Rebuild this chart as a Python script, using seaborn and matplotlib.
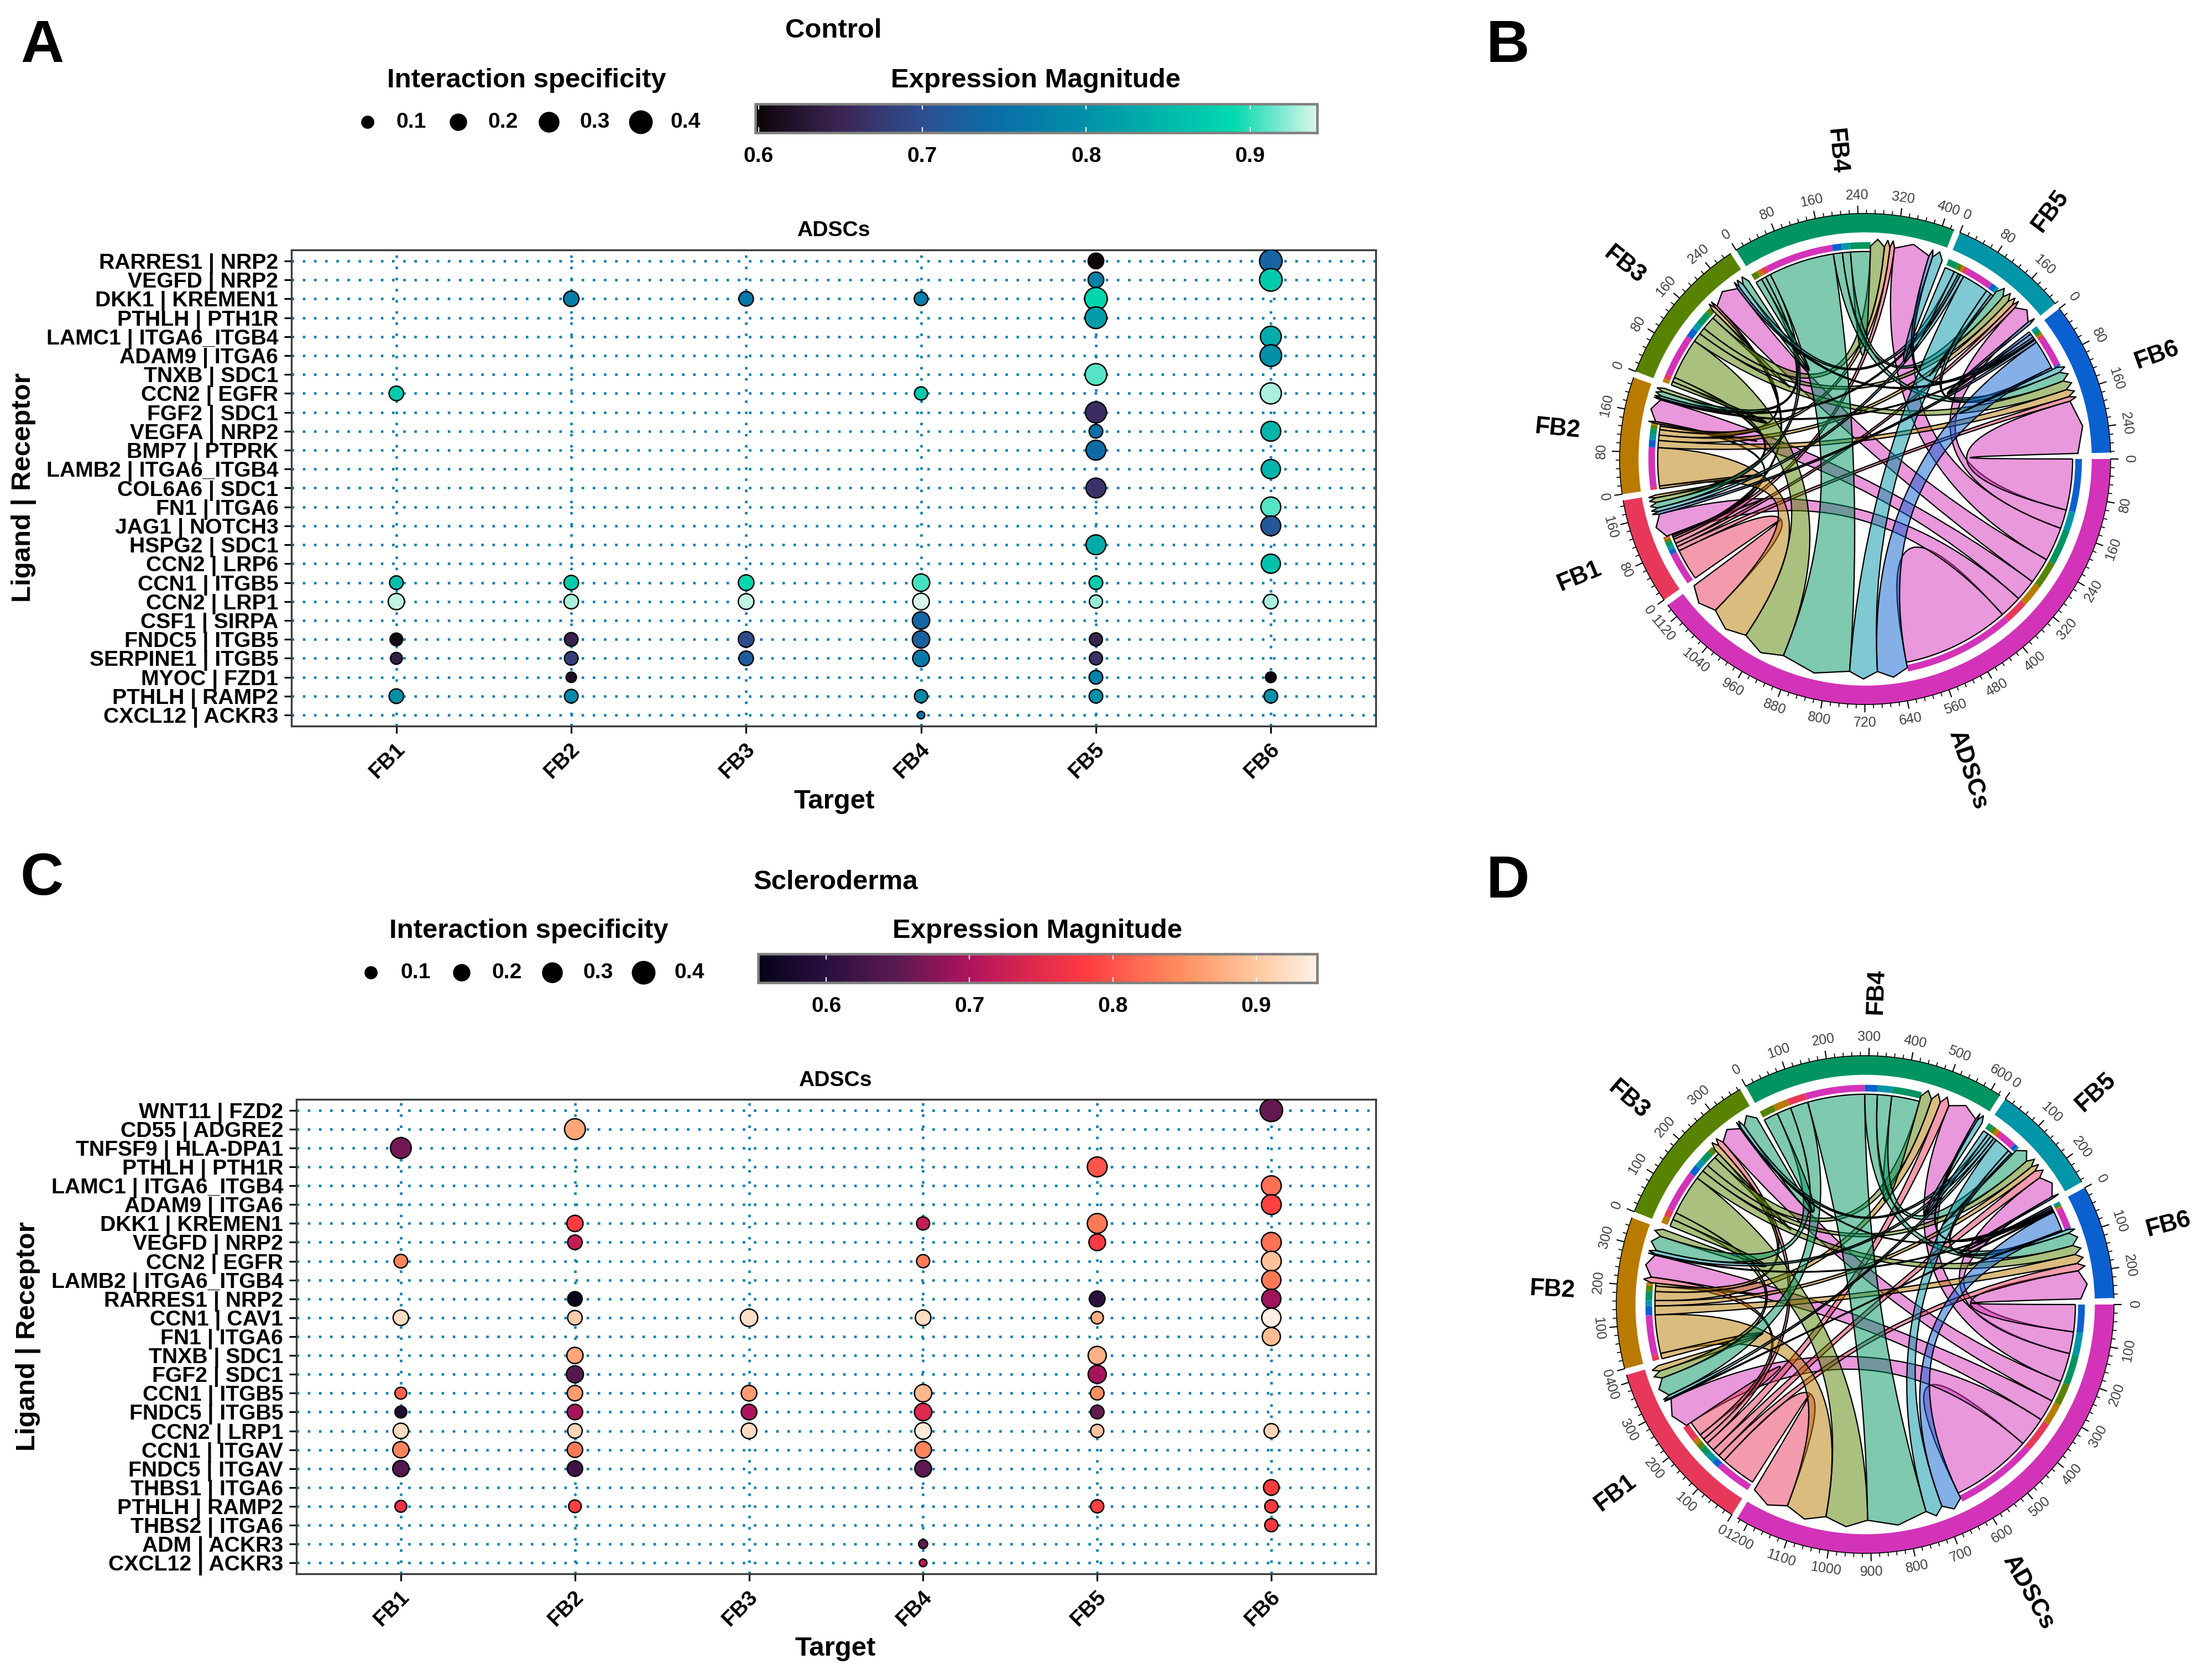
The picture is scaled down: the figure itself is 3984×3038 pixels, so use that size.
import numpy as np
import pandas as pd
import seaborn as sns
import matplotlib.pyplot as plt
from matplotlib.cm import ScalarMappable
from matplotlib.collections import LineCollection
from matplotlib.colors import LinearSegmentedColormap, Normalize
from matplotlib.patches import PathPatch, Wedge
from matplotlib.path import Path
from matplotlib.transforms import ScaledTranslation

N = np.nan
W, H = 3984, 3038
DPI = 300

targets = ["FB1", "FB2", "FB3", "FB4", "FB5", "FB6"]

# panel A
a_pairs = ["RARRES1 | NRP2", "VEGFD | NRP2", "DKK1 | KREMEN1", "PTHLH | PTH1R", "LAMC1 | ITGA6_ITGB4",
           "ADAM9 | ITGA6", "TNXB | SDC1", "CCN2 | EGFR", "FGF2 | SDC1", "VEGFA | NRP2",
           "BMP7 | PTPRK", "LAMB2 | ITGA6_ITGB4", "COL6A6 | SDC1", "FN1 | ITGA6", "JAG1 | NOTCH3",
           "HSPG2 | SDC1", "CCN2 | LRP6", "CCN1 | ITGB5", "CCN2 | LRP1", "CSF1 | SIRPA",
           "FNDC5 | ITGB5", "SERPINE1 | ITGB5", "MYOC | FZD1", "PTHLH | RAMP2", "CXCL12 | ACKR3"]
a_fb1_expr = [N,N,N,N,N, N,N,.875,N,N, N,N,N,N,N, N,N,.855,.935,N, .605,.64,N,.80,N]
a_fb1_spec = [N,N,N,N,N, N,N,.13,N,N, N,N,N,N,N, N,N,.11,.17,N, .09,.075,N,.13,N]
a_fb2_expr = [N,N,.77,N,N, N,N,N,N,N, N,N,N,N,N, N,N,.875,.93,N, .645,.68,.615,.79,N]
a_fb2_spec = [N,N,.15,N,N, N,N,N,N,N, N,N,N,N,N, N,N,.13,.13,N, .11,.11,.05,.11,N]
a_fb3_expr = [N,N,.76,N,N, N,N,N,N,N, N,N,N,N,N, N,N,.885,.935,N, .695,.72,N,N,N]
a_fb3_spec = [N,N,.13,N,N, N,N,N,N,N, N,N,N,N,N, N,N,.155,.155,N, .155,.13,N,N,N]
a_fb4_expr = [N,N,.77,N,N, N,N,.87,N,N, N,N,N,N,N, N,N,.905,.94,.735, .725,.76,N,.79,.76]
a_fb4_spec = [N,N,.11,N,N, N,N,.10,N,N, N,N,N,N,N, N,N,.20,.18,.20, .20,.18,N,.10,.01]
a_fb5_expr = [.60,.775,.885,.815,N, N,.91,N,.66,.745, .74,N,.665,N,N, .835,N,.875,.925,N, .645,.665,.78,.80,N]
a_fb5_spec = [.155,.155,.36,.33,N, N,.33,N,.31,.11, .27,N,.27,N,N, .27,N,.11,.10,N, .10,.10,.11,.11,N]
a_fb6_expr = [.73,.87,N,N,.835, .80,N,.93,N,.845, N,.845,N,.91,.71, N,.86,N,.93,N, N,N,.60,.80,N]
a_fb6_spec = [.36,.36,N,N,.30, .33,N,.31,N,.27, N,.25,N,.27,.27, N,.25,N,.13,N, N,N,.055,.11,N]

# panel C
c_pairs = ["WNT11 | FZD2", "CD55 | ADGRE2", "TNFSF9 | HLA-DPA1", "PTHLH | PTH1R", "LAMC1 | ITGA6_ITGB4",
           "ADAM9 | ITGA6", "DKK1 | KREMEN1", "VEGFD | NRP2", "CCN2 | EGFR", "LAMB2 | ITGA6_ITGB4",
           "RARRES1 | NRP2", "CCN1 | CAV1", "FN1 | ITGA6", "TNXB | SDC1", "FGF2 | SDC1",
           "CCN1 | ITGB5", "FNDC5 | ITGB5", "CCN2 | LRP1", "CCN1 | ITGAV", "FNDC5 | ITGAV",
           "THBS1 | ITGA6", "PTHLH | RAMP2", "THBS2 | ITGA6", "ADM | ACKR3", "CXCL12 | ACKR3"]
c_fb1_expr = [N,N,.665,N,N, N,N,N,.84,N, N,.92,N,N,N, .81,.585,.92,.84,.64, N,.76,N,N,N]
c_fb1_spec = [N,N,.30,N,N, N,N,N,.11,N, N,.15,N,N,N, .075,.075,.15,.17,.17, N,.075,N,N,N]
c_fb2_expr = [N,.87,N,N,N, N,.78,.72,N,N, .555,.905,N,.87,.645, .86,.695,.915,.83,.62, N,.785,N,N,N]
c_fb2_spec = [N,.30,N,N,N, N,.17,.13,N,N, .13,.13,N,.17,.19, .15,.15,.13,.15,.15, N,.09,N,N,N]
c_fb3_expr = [N,N,N,N,N, N,N,N,N,N, N,.925,N,N,N, .86,.70,.92,N,N, N,N,N,N,N]
c_fb3_spec = [N,N,N,N,N, N,N,N,N,N, N,.20,N,N,N, .155,.155,.155,N,N, N,N,N,N,N]
c_fb4_expr = [N,N,N,N,N, N,.72,N,.83,N, N,.92,N,N,N, .885,.745,.935,.84,.65, N,N,N,.65,.71]
c_fb4_spec = [N,N,N,N,N, N,.10,N,.10,N, N,.155,N,N,N, .20,.20,.18,.18,.18, N,N,N,.03,.012]
c_fb5_expr = [N,N,N,.80,N, N,.83,.775,N,N, .60,.875,N,.88,.695, .85,.655,.895,N,N, N,.785,N,N,N]
c_fb5_spec = [N,N,N,.27,N, N,.27,.18,N,N, .155,.085,N,.22,.22, .11,.11,.10,N,N, N,.10,N,N,N]
c_fb6_expr = [.655,N,N,N,.825, .785,N,.825,.895,.83, .69,.94,.89,N,N, N,N,.915,N,N, .78,.775,.775,N,N]
c_fb6_spec = [.36,N,N,N,.27, .27,N,.27,.27,.25, .25,.25,.22,N,N, N,N,.13,N,N, .155,.10,.10,N,N]

# colour ramps
a_ramp_vals = [.598, .65, .70, .745, .80, .89, .941]
a_ramp_cols = ["#0b0408", "#3d2555", "#2d4f92", "#0a6ea8", "#0090a8", "#00d9ae", "#d8f6ea"]
c_ramp_vals = [.5525, .60, .65, .70, .78, .85, .90, .9425]
c_ramp_cols = ["#05031a", "#2a1040", "#5c1a50", "#b0135d", "#ff3b40", "#ff9060", "#ffc8a0", "#fff0e4"]

# chord diagrams, rows send, columns receive: ADSCs, FB1 ... FB6
sectors = ["ADSCs", "FB1", "FB2", "FB3", "FB4", "FB5", "FB6"]
sector_cols = ["#d333b8", "#e8385a", "#b97a00", "#578300", "#009460", "#0095a8", "#0b60d0"]
b_adscs = [240, 50, 48, 58, 76, 42, 114]
b_fb1 = [70, 3, 4, 5, 10, 8, 10]
b_fb2 = [85, 6, 4, 8, 12, 12, 16]
b_fb3 = [92, 10, 8, 12, 30, 15, 20]
b_fb4 = [147, 12, 10, 14, 44, 18, 20]
b_fb5 = [60, 8, 5, 10, 22, 6, 12]
b_fb6 = [65, 6, 3, 5, 8, 6, 5]
d_adscs = [227, 83, 60, 59, 81, 61, 76]
d_fb1 = [99, 43, 15, 15, 25, 22, 20]
d_fb2 = [108, 15, 8, 15, 25, 15, 25]
d_fb3 = [113, 20, 20, 15, 30, 20, 25]
d_fb4 = [160, 50, 40, 40, 78, 40, 35]
d_fb5 = [45, 8, 10, 10, 15, 5, 10]
d_fb6 = [55, 3, 3, 3, 5, 5, 4]

sns.set_theme(style="white")
plt.rcParams["font.family"] = ["Liberation Sans", "DejaVu Sans"]
plt.rcParams["font.weight"] = "bold"
plt.rcParams["text.color"] = "black"
plt.rcParams["xtick.labelcolor"] = "black"
plt.rcParams["ytick.labelcolor"] = "black"

fig = plt.figure(figsize=(W / DPI, H / DPI), dpi=DPI, facecolor="white")


def px_axes(left, top, right, bottom):
    return fig.add_axes([left / W, 1 - bottom / H, (right - left) / W, (bottom - top) / H])


def dot_panel(box, pairs, exprs, specs, cmap, vmin, vmax):
    ax = px_axes(*box)
    rows = []
    for t, (e, s) in enumerate(zip(exprs, specs)):
        rows.append(pd.DataFrame({"t": t, "r": range(len(pairs)), "expr": e, "spec": s}))
    df = pd.concat(rows).dropna()
    ax.set_axisbelow(True)
    ax.grid(True, color="#0a7fb5", linestyle=(0, (1, 3.4)), linewidth=1.1)
    sns.scatterplot(data=df, x="t", y="r", hue="expr", size="spec", palette=cmap,
                    hue_norm=(vmin, vmax), sizes=(8, 118), size_norm=(0, 0.45),
                    edgecolor="black", linewidth=0.6, legend=False, ax=ax, zorder=3)
    ax.set_xlim(-0.6, 5.6)
    ax.set_ylim(len(pairs) - 1 + 0.58, -0.58)
    ax.set_xticks(range(6), targets)
    ax.set_yticks(range(len(pairs)), pairs)
    ax.set_xlabel("")
    ax.set_ylabel("")
    ax.tick_params(axis="both", length=3.1, width=0.75, color="black", labelsize=9.4, bottom=True, left=True)
    ax.tick_params(axis="y", pad=2.6)
    ax.tick_params(axis="x", pad=5.8)
    plt.setp(ax.get_xticklabels(), rotation=45, ha="right", va="center", rotation_mode="anchor")
    off = ScaledTranslation(2.4 / 72, 0, fig.dpi_scale_trans)
    for lab in ax.get_xticklabels():
        lab.set_transform(lab.get_transform() + off)
    for sp in ax.spines.values():
        sp.set_visible(True)
        sp.set_color("#3a3a3a")
        sp.set_linewidth(0.8)
    return ax


def colour_bar(box, cmap, vmin, vmax):
    cax = px_axes(*box)
    sm = ScalarMappable(norm=Normalize(vmin, vmax), cmap=cmap)
    cb = fig.colorbar(sm, cax=cax, orientation="horizontal")
    ticks = [.6, .7, .8, .9]
    cb.set_ticks(ticks, labels=["0.6", "0.7", "0.8", "0.9"])
    cb.outline.set_edgecolor("#808080")
    cb.outline.set_linewidth(1.1)
    cax.tick_params(length=0, labelsize=9.4, pad=6)
    cax.vlines(ticks, 0, 0.2, color="white", lw=0.5)
    cax.vlines(ticks, 0.8, 1, color="white", lw=0.5)


def arc_pts(t0, t1, r):
    tt = np.radians(np.linspace(t0, t1, max(3, int(abs(t1 - t0) * 2) + 2)))
    return np.column_stack([r * np.cos(-tt), r * np.sin(-tt)])


def pol(t, r):
    return [r * np.cos(np.radians(-t)), r * np.sin(np.radians(-t))]


def link_patch(s0, s1, t0, t1, col):
    # flat foot on the sender, big arrow head on the receiver, bezier through the centre
    foot = arc_pts(s0, s1, 0.845)
    verts = list(map(list, foot))
    codes = [Path.MOVETO] + [Path.LINETO] * (len(foot) - 1)
    verts += [[0, 0], pol(t0, 0.867)]
    codes += [Path.CURVE3, Path.CURVE3]
    verts += [pol((t0 + t1) / 2, 0.896), pol(t1, 0.867)]
    codes += [Path.LINETO, Path.LINETO]
    verts += [[0, 0], list(foot[0])]
    codes += [Path.CURVE3, Path.CURVE3]
    return PathPatch(Path(verts, codes), facecolor=tuple(col) + (0.5,), edgecolor="black", linewidth=0.55)


def self_patch(s0, s1, col):
    foot = arc_pts(s0, s1, 0.845)
    verts = list(map(list, foot)) + [[0, 0], list(foot[0])]
    codes = [Path.MOVETO] + [Path.LINETO] * (len(foot) - 1) + [Path.CURVE3, Path.CURVE3]
    return PathPatch(Path(verts, codes), facecolor=tuple(col) + (0.5,), edgecolor="black", linewidth=0.55)


def chord(cx, cy, radius, flows, major, gap=1.5):
    half = 1.33 * radius
    ax = px_axes(cx - half, cy - half, cx + half, cy + half)
    ax.set_xlim(-1.33, 1.33)
    ax.set_ylim(-1.33, 1.33)
    ax.set_aspect("equal")
    ax.axis("off")
    mat = np.array(flows, dtype=float)
    n = len(sectors)
    totals = [mat[i].sum() + mat[:, i].sum() - mat[i, i] for i in range(n)]
    scale = (360 - gap * n) / sum(totals)
    cols = sns.color_palette(sector_cols)
    send, recv = {}, {}
    theta = 0.0
    ticks_major, ticks_minor = [], []
    for i in range(n):
        start = theta
        order = [(i - k) % n for k in range(1, n + 1)]
        for j in order:
            w = mat[i, j] * scale
            send[(i, j)] = (theta, theta + w)
            ax.add_patch(Wedge((0, 0), 0.883, -(theta + w), -theta, width=0.027, color=cols[j], lw=0))
            theta += w
        for j in order[:-1]:
            w = mat[j, i] * scale
            recv[(j, i)] = (theta, theta + w)
            theta += w
        end = theta
        ax.add_patch(Wedge((0, 0), 1, -end, -start, width=0.077, color=cols[i], lw=0))
        # axis ticks and labels
        ax.plot(*np.array(arc_pts(start, end, 1)).T, color="black", lw=0.4)
        for u in np.arange(0, totals[i] + 1e-6, major / 5):
            t = start + u * scale
            is_major = int(round(u)) % major == 0
            tip = 1.032 if is_major else 1.016
            (ticks_major if is_major else ticks_minor).append([pol(t, 1), pol(t, tip)])
            if is_major:
                a = (-t + 180) % 360 - 180
                rot = a - 90 if a >= 0 else a + 90
                ax.text(*pol(t, 1.075), f"{int(round(u))}", rotation=rot, ha="center", va="center",
                        rotation_mode="anchor", fontsize=6, fontweight="normal", color="#404040")
        mid = (start + end) / 2
        a = (-mid + 180) % 360 - 180
        if -90 < a <= 90:
            rot, ha = a, "left"
        else:
            rot, ha = a - 180, "right"
        ax.text(*pol(mid, 1.167), sectors[i], rotation=rot, ha=ha, va="center", rotation_mode="anchor", fontsize=10.5)
        theta += gap
    ax.add_collection(LineCollection(ticks_major, colors="black", linewidths=0.5))
    ax.add_collection(LineCollection(ticks_minor, colors="black", linewidths=0.4))
    for i in range(n):
        for j in range(n):
            if mat[i, j] <= 0:
                continue
            s0, s1 = send[(i, j)]
            if i == j:
                ax.add_patch(self_patch(s0, s1, cols[i]))
            else:
                ax.add_patch(link_patch(s0, s1, *recv[(i, j)], cols[i]))
    return ax


a_cmap = LinearSegmentedColormap.from_list(
    "a", [((v - a_ramp_vals[0]) / (a_ramp_vals[-1] - a_ramp_vals[0]), c) for v, c in zip(a_ramp_vals, a_ramp_cols)])
c_cmap = LinearSegmentedColormap.from_list(
    "c", [((v - c_ramp_vals[0]) / (c_ramp_vals[-1] - c_ramp_vals[0]), c) for v, c in zip(c_ramp_vals, c_ramp_cols)])

dot_panel((527, 452, 2488, 1313), a_pairs,
          [a_fb1_expr, a_fb2_expr, a_fb3_expr, a_fb4_expr, a_fb5_expr, a_fb6_expr],
          [a_fb1_spec, a_fb2_spec, a_fb3_spec, a_fb4_spec, a_fb5_spec, a_fb6_spec],
          a_cmap, a_ramp_vals[0], a_ramp_vals[-1])
dot_panel((536, 1988, 2488, 2846), c_pairs,
          [c_fb1_expr, c_fb2_expr, c_fb3_expr, c_fb4_expr, c_fb5_expr, c_fb6_expr],
          [c_fb1_spec, c_fb2_spec, c_fb3_spec, c_fb4_spec, c_fb5_spec, c_fb6_spec],
          c_cmap, c_ramp_vals[0], c_ramp_vals[-1])
colour_bar((1366, 188, 2382, 240), a_cmap, a_ramp_vals[0], a_ramp_vals[-1])
colour_bar((1371, 1725, 2382, 1777), c_cmap, c_ramp_vals[0], c_ramp_vals[-1])

chord(3373, 830, 444, [b_adscs, b_fb1, b_fb2, b_fb3, b_fb4, b_fb5, b_fb6], 80)
chord(3373, 2359, 450, [d_adscs, d_fb1, d_fb2, d_fb3, d_fb4, d_fb5, d_fb6], 100)

# everything placed by hand sits on one overlay in pixel coordinates
ov = fig.add_axes([0, 0, 1, 1], zorder=10)
ov.set_xlim(0, W)
ov.set_ylim(H, 0)
ov.axis("off")
ov.patch.set_alpha(0)

legend_specs = [.1, .2, .3, .4]
legend_labels = ["0.1", "0.2", "0.3", "0.4"]
for xs, lx, y in [([665, 829, 993, 1159], [744, 910, 1076, 1240], 221),
                  ([671, 835, 999, 1164], [752, 917, 1082, 1247], 1759)]:
    sns.scatterplot(x=xs, y=[y] * 4, size=legend_specs, sizes=(8, 118), size_norm=(0, .45),
                    color="black", linewidth=0, legend=False, ax=ov)
    for x, lab in zip(lx, legend_labels):
        ov.text(x, y, lab, ha="center", va="center", fontsize=9.4)
ov.set_xlim(0, W)
ov.set_ylim(H, 0)
ov.set_xlabel("")
ov.set_ylabel("")

for x, y, s, fs in [(1507, 56, "Control", 11.8), (1511, 1595, "Scleroderma", 11.8),
                    (952, 146, "Interaction specificity", 11.8), (1873, 146, "Expression Magnitude", 11.8),
                    (956, 1683, "Interaction specificity", 11.8), (1876, 1683, "Expression Magnitude", 11.8),
                    (1507, 417, "ADSCs", 9.4), (1510, 1954, "ADSCs", 9.4),
                    (1509, 1450, "Target", 11.8), (1511, 2982, "Target", 11.8),
                    (76, 84, "A", 26), (76, 1590, "C", 26), (2727, 84, "B", 26), (2727, 1595, "D", 26)]:
    ov.text(x, y, s, ha="center", va="center", fontsize=fs)
ov.text(43, 882, "Ligand | Receptor", rotation=90, ha="center", va="center", fontsize=11.8)
ov.text(51, 2417, "Ligand | Receptor", rotation=90, ha="center", va="center", fontsize=11.8)

fig.savefig("out.png", dpi=DPI, facecolor="white")
